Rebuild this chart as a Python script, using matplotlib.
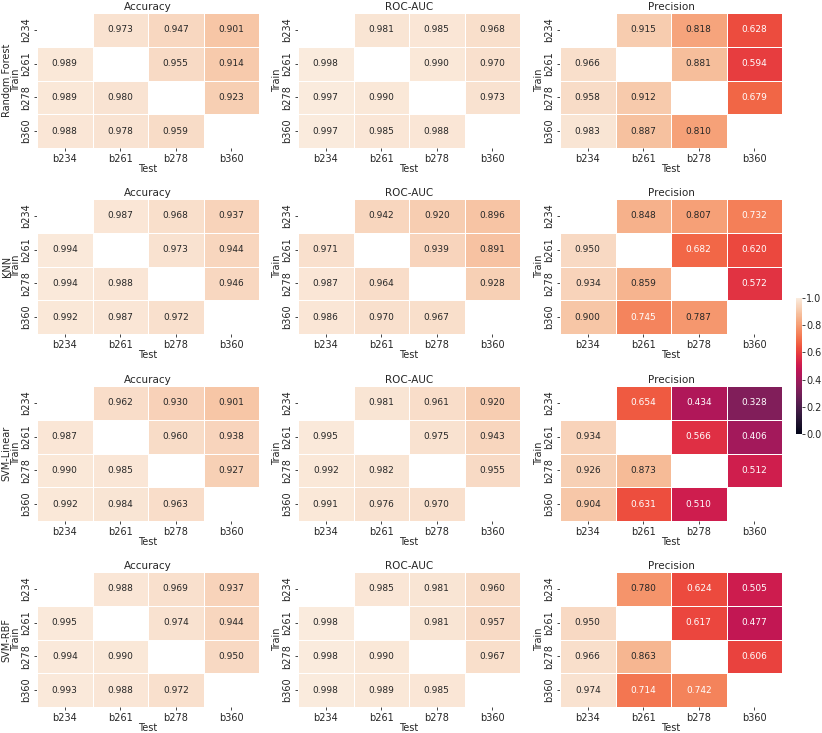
import numpy as np
import matplotlib
matplotlib.use('Agg')
import matplotlib.pyplot as plt
import seaborn as sns

sns.set_style('ticks')
plt.rcParams['font.family'] = ['DejaVu Sans']

bands = ['b234', 'b261', 'b278', 'b360']
models = ['Random Forest', 'KNN', 'SVM-Linear', 'SVM-RBF']
metrics = ['Accuracy', 'ROC-AUC', 'Precision']
nan = np.nan

rf_accuracy = [[nan, 0.973, 0.947, 0.901],
               [0.989, nan, 0.955, 0.914],
               [0.989, 0.980, nan, 0.923],
               [0.988, 0.978, 0.959, nan]]
rf_rocauc = [[nan, 0.981, 0.985, 0.968],
             [0.998, nan, 0.990, 0.970],
             [0.997, 0.990, nan, 0.973],
             [0.997, 0.985, 0.988, nan]]
rf_precision = [[nan, 0.915, 0.818, 0.628],
                [0.966, nan, 0.881, 0.594],
                [0.958, 0.912, nan, 0.679],
                [0.983, 0.887, 0.810, nan]]

knn_accuracy = [[nan, 0.987, 0.968, 0.937],
                [0.994, nan, 0.973, 0.944],
                [0.994, 0.988, nan, 0.946],
                [0.992, 0.987, 0.972, nan]]
knn_rocauc = [[nan, 0.942, 0.920, 0.896],
              [0.971, nan, 0.939, 0.891],
              [0.987, 0.964, nan, 0.928],
              [0.986, 0.970, 0.967, nan]]
knn_precision = [[nan, 0.848, 0.807, 0.732],
                 [0.950, nan, 0.682, 0.620],
                 [0.934, 0.859, nan, 0.572],
                 [0.900, 0.745, 0.787, nan]]

svml_accuracy = [[nan, 0.962, 0.930, 0.901],
                 [0.987, nan, 0.960, 0.938],
                 [0.990, 0.985, nan, 0.927],
                 [0.992, 0.984, 0.963, nan]]
svml_rocauc = [[nan, 0.981, 0.961, 0.920],
               [0.995, nan, 0.975, 0.943],
               [0.992, 0.982, nan, 0.955],
               [0.991, 0.976, 0.970, nan]]
svml_precision = [[nan, 0.654, 0.434, 0.328],
                  [0.934, nan, 0.566, 0.406],
                  [0.926, 0.873, nan, 0.512],
                  [0.904, 0.631, 0.510, nan]]

svmr_accuracy = [[nan, 0.988, 0.969, 0.937],
                 [0.995, nan, 0.974, 0.944],
                 [0.994, 0.990, nan, 0.950],
                 [0.993, 0.988, 0.972, nan]]
svmr_rocauc = [[nan, 0.985, 0.981, 0.960],
               [0.998, nan, 0.981, 0.957],
               [0.998, 0.990, nan, 0.967],
               [0.998, 0.989, 0.985, nan]]
svmr_precision = [[nan, 0.780, 0.624, 0.505],
                  [0.950, nan, 0.617, 0.477],
                  [0.966, 0.863, nan, 0.606],
                  [0.974, 0.714, 0.742, nan]]

results = [[rf_accuracy, rf_rocauc, rf_precision],
           [knn_accuracy, knn_rocauc, knn_precision],
           [svml_accuracy, svml_rocauc, svml_precision],
           [svmr_accuracy, svmr_rocauc, svmr_precision]]

W, H = 822, 733
fig = plt.figure(figsize=(W / 100, H / 100), dpi=100)

col_left = [37, 298, 560]
row_top = [13, 199, 386, 572]
aw, ah = 222, 135

cax = fig.add_axes([796 / W, 1 - 434 / H, 6 / W, 136 / H])

for i, model in enumerate(models):
    for j, metric in enumerate(metrics):
        ax = fig.add_axes([col_left[j] / W, 1 - (row_top[i] + ah) / H, aw / W, ah / H])
        data = np.array(results[i][j])
        first = (i == 0 and j == 0)
        sns.heatmap(data, ax=ax, vmin=0, vmax=1, cmap='rocket', annot=True, fmt='.3f',
                    annot_kws={'fontsize': 6.5}, linewidths=0.5, linecolor='white',
                    mask=np.isnan(data), cbar=first, cbar_ax=cax if first else None,
                    xticklabels=bands, yticklabels=bands)
        ax.set_title(metric, fontsize=7.5, pad=2, color='.15')
        ax.set_xlabel('Test', fontsize=7, labelpad=0)
        if j == 0:
            ax.set_ylabel(model + '\nTrain', fontsize=7, labelpad=0, linespacing=0.95)
        else:
            ax.set_ylabel('Train', fontsize=7, labelpad=0)
        ax.tick_params(axis='both', labelsize=7, length=2.5, width=0.6, pad=1.5)
        plt.setp(ax.get_yticklabels(), rotation=90, va='center')
        plt.setp(ax.get_xticklabels(), rotation=0)

cax.tick_params(labelsize=7, length=2, width=0.6, pad=1)
cax.set_yticks([0.0, 0.2, 0.4, 0.6, 0.8, 1.0])
cax.set_yticklabels(['0.0', '0.2', '0.4', '0.6', '0.8', '1.0'])

fig.savefig('out.png', dpi=100)
